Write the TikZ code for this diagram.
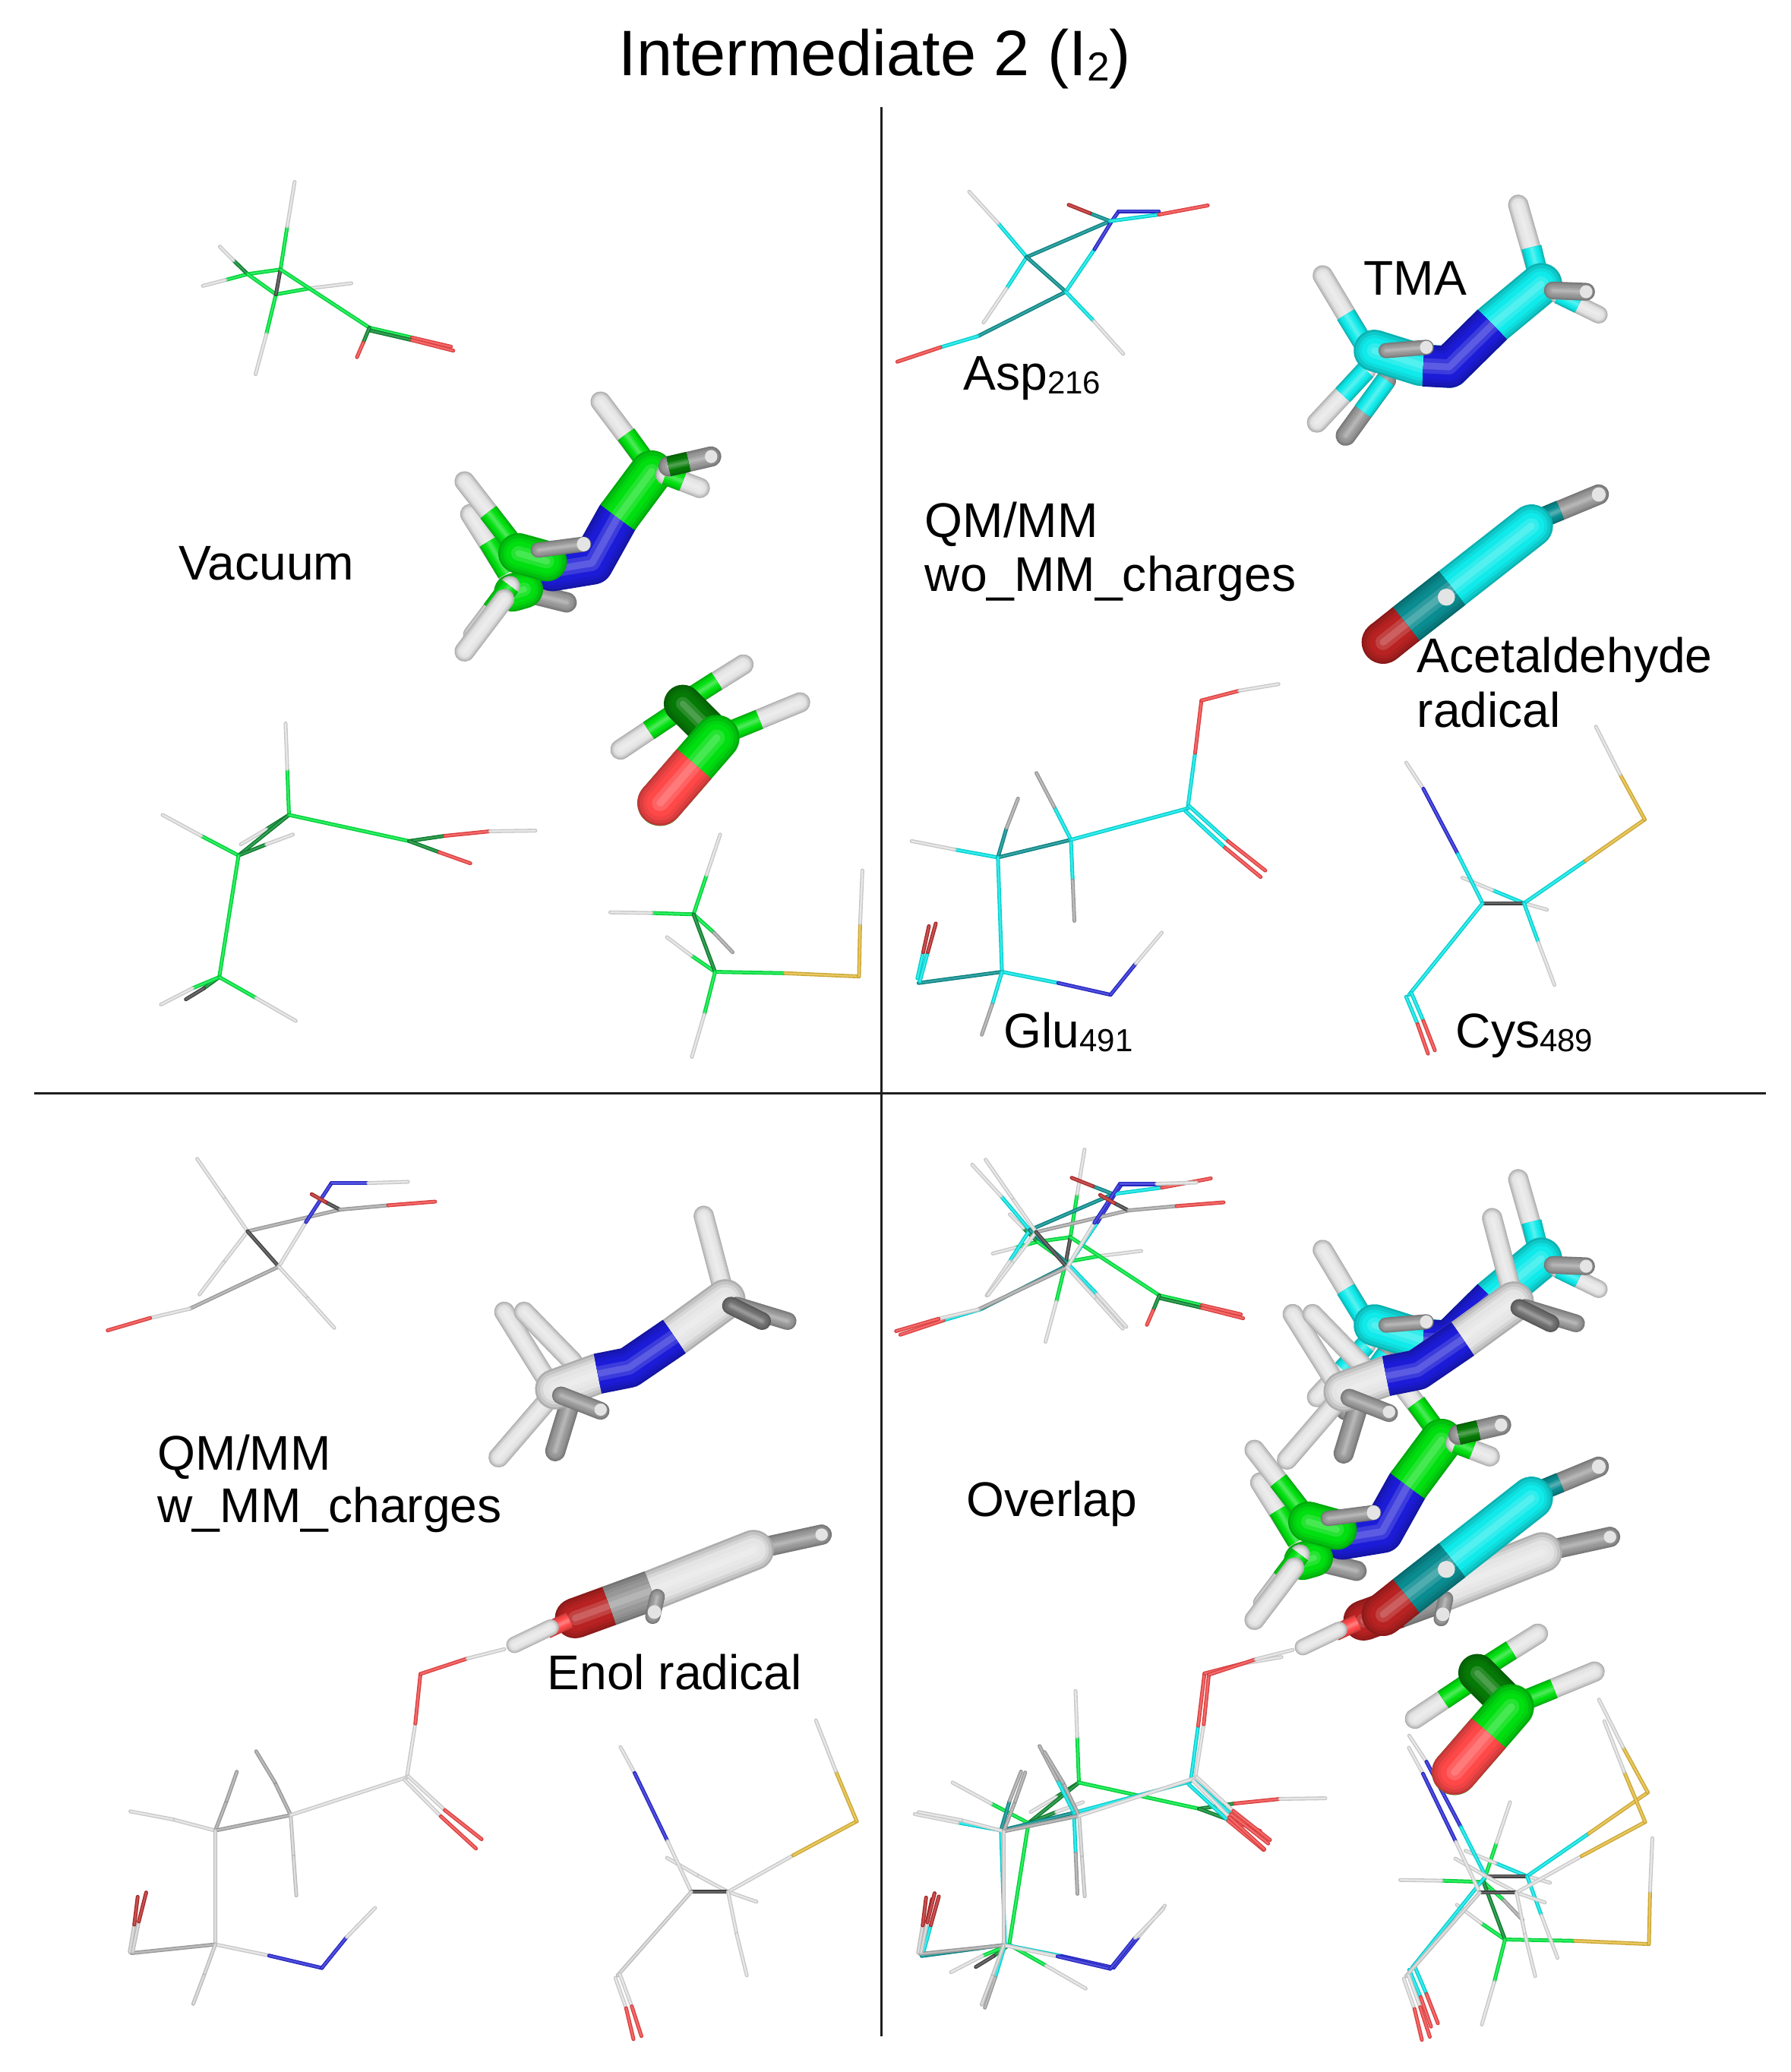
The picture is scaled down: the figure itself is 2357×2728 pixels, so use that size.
\documentclass[tikz,border=0pt]{standalone}
\usepackage{fontspec}
\setmainfont{Liberation Sans}
\definecolor{wg}{HTML}{00EA40}\definecolor{wdg}{HTML}{0A8A30}
\definecolor{wc}{HTML}{08E8E8}\definecolor{wdc}{HTML}{0A9090}
\definecolor{wh}{HTML}{E2E2E2}\definecolor{wl}{HTML}{D4D4D4}\definecolor{wm}{HTML}{ACACAC}\definecolor{wk}{HTML}{484848}
\definecolor{wn}{HTML}{2A2AD8}\definecolor{wo}{HTML}{F44848}\definecolor{wdo}{HTML}{BC2C2C}\definecolor{ws}{HTML}{E4BC3C}
\definecolor{tg}{HTML}{00E010}\definecolor{tdg}{HTML}{067A06}
\definecolor{tc}{HTML}{10EAEA}\definecolor{tdc}{HTML}{0A8C90}
\definecolor{tn}{HTML}{1C1CD8}\definecolor{to}{HTML}{FF4848}\definecolor{tdo}{HTML}{B82222}
\definecolor{th}{HTML}{E4E4E4}\definecolor{tdh}{HTML}{707070}\definecolor{tm}{HTML}{989898}
\newcommand\WW[3]{\draw[line cap=round,line width=1.5pt,#3!88!black] (#1)--(#2);\draw[line cap=round,line width=.7pt,#3!82!white] (#1)--(#2);}
\newcommand\WB[5]{\WW{#1}{#2}{#4}\WW{#2}{#3}{#5}}
\newcommand\TT[4][round]{\foreach \s/\cc in {1/#3!76!black,.9/#3!86!black,.75/#3!94!black,.6/#3,.36/#3!86!white,.16/#3!72!white}{%
  \draw[line cap=#1,line join=round,line width=\s*#2pt,color=\cc] #4;}}
\newcommand\TE[4]{\foreach \s/\cc in {1/#2!76!black,.9/#2!86!black,.75/#2!94!black,.6/#2,.36/#2!86!white,.16/#2!72!white}{%
  \draw[line cap=butt,line width=\s*#1pt,color=\cc] (#3)--(#4);
  \draw[line cap=round,line width=\s*#1pt,color=\cc] (#4)--++(.02,0);}}
\newcommand\mol[3]{\begin{scope}[shift={(#1)},#2]#3\end{scope}}
\tikzset{pa/.style={x=.2238pt,y=-.2583pt},pb/.style={x=.2271pt,y=-.2583pt},pc/.style={x=.2238pt,y=-.2445pt},
 lab/.style={anchor=base west,inner sep=0pt,font=\fontsize{19.25}{19.25}\selectfont,text=black},
 rule/.style={line width=.9pt,draw=black!88}}
\newcommand\sbs[1]{{\fontsize{12.6}{12.6}\selectfont\raisebox{-1.5pt}{#1}}}
% ---------- vacuum (green), panel-A coordinates
\newcommand\vacAsp{%
\WB{495,296}{507,230}{520,162}{wg}{wh}
\WB{437,303}{398,312}{358,321}{wg}{wh}
\WB{437,303}{412,282}{388,261}{wdg}{wh}
\WB{487,334}{545,325}{620,317}{wg}{wh}
\WB{487,334}{470,395}{451,456}{wg}{wh}
\WW{437,303}{495,296}{wg}\WW{437,303}{487,334}{wg}
\WW{495,296}{487,334}{wk}
\WW{495,296}{652,385}{wg}
\WB{652,385}{727,400}{796,414}{wg}{wo}\WB{652,389}{727,404}{800,420}{wdg}{wo}
\WB{652,385}{641,408}{630,430}{wdg}{wo}}
\newcommand\vacGlu{%
\WB{510,1130}{507,1060}{504,990}{wg}{wh}
\WB{510,1130}{470,1152}{425,1175}{wdg}{wh}
\WW{510,1130}{421,1192}{wdg}
\WB{421,1192}{355,1162}{287,1130}{wg}{wh}
\WB{421,1192}{470,1175}{517,1160}{wdg}{wh}
\WW{510,1130}{722,1170}{wg}
\WB{722,1170}{785,1162}{865,1155}{wdg}{wo}\WW{865,1155}{945,1154}{wh}
\WB{722,1170}{775,1187}{830,1204}{wdg}{wo}
\WW{421,1192}{387,1378}{wg}
\WB{387,1378}{360,1395}{328,1412}{wdg}{wk}
\WB{387,1378}{340,1395}{284,1420}{wg}{wh}
\WB{387,1378}{452,1410}{522,1445}{wg}{wh}}
\newcommand\vacCys{%
\WB{1224,1282}{1150,1280}{1077,1279}{wg}{wh}
\WB{1224,1282}{1247,1222}{1271,1160}{wg}{wh}
\WB{1224,1282}{1260,1310}{1293,1340}{wg}{wm}
\WB{1262,1370}{1220,1345}{1177,1317}{wg}{wh}
\WW{1224,1282}{1262,1370}{wdg}
\WB{1262,1370}{1385,1372}{1516,1377}{wg}{ws}
\WB{1516,1377}{1518,1296}{1522,1215}{ws}{wh}
\WB{1262,1370}{1243,1435}{1221,1500}{wg}{wh}}
\newcommand\vacTMA{%
\TT{8}{th}{(830,670)--(895,760)}\TT[butt]{8}{tg}{(862,712)--(895,760)}
\TT{8}{th}{(820,620)--(905,715)}\TT[butt]{8}{tg}{(862,667)--(905,715)}
\TT{8}{tm}{(930,790)--(1000,805)}
\TT{8}{th}{(1060,498)--(1140,590)}\TT[butt]{8}{tg}{(1105,548)--(1140,590)}
\TT{17}{tn}{(975,755)--(1045,745)--(1090,675)}
\TE{17}{tg}{1090,675}{1150,605}
\TT{8}{th}{(1235,630)--(1175,610)}\TT[butt]{8}{tg}{(1205,620)--(1175,610)}
\TT{8}{tm}{(1255,582)--(1180,597)}\TT[butt]{8}{tdg}{(1215,590)--(1180,597)}
\draw[fill=th,draw=none] (1255,582) circle[x radius=11,y radius=10];
\TT{15}{tg}{(905,790)--(925,785)}
\TT{8}{th}{(835,855)--(900,780)}\TT[butt]{8}{tg}{(868,817)--(900,780)}
\TT{8}{th}{(820,880)--(890,800)}
\TT{16}{tg}{(915,730)--(965,742)}
\TT{6}{tm}{(950,725)--(1030,716)}\draw[fill=th,draw=none] (1030,716) circle[x radius=12,y radius=11];}
\newcommand\vacAld{%
\TT{8}{th}{(1312,900)--(1220,950)}\TT[butt]{8}{tg}{(1265,925)--(1220,950)}
\TT{8}{th}{(1095,1030)--(1190,975)}\TT[butt]{8}{tg}{(1145,1001)--(1190,975)}
\TT{15}{tdg}{(1205,960)--(1265,1012)}
\TT{8}{th}{(1412,958)--(1280,1005)}\TT[butt]{8}{tg}{(1340,984)--(1280,1005)}
\TT{18}{tg}{(1165,1112)--(1265,1012)}
\TE{18}{to}{1225,1052}{1165,1112}}
% ---------- cyan, panel-B coordinates
\newcommand\cyAsp{%
\WB{240,277}{190,225}{140,177}{wc}{wh}
\WB{240,277}{205,325}{165,377}{wc}{wh}
\WW{240,277}{385,222}{wdc}
\WW{240,277}{308,330}{wdc}
\WB{308,330}{358,265}{388,222}{wc}{wn}
\WW{308,330}{155,398}{wdc}
\WB{308,330}{357,375}{408,425}{wc}{wh}
\WB{155,398}{90,415}{15,437}{wc}{wo}
\WB{385,222}{350,210}{313,197}{wdc}{wdo}
\WW{388,222}{400,207}{wn}\WW{400,207}{470,207}{wn}
\WB{385,222}{470,212}{555,198}{wc}{wo}}
\newcommand\cyGlu{%
\WB{190,1195}{115,1183}{40,1170}{wc}{wh}
\WB{190,1195}{205,1150}{225,1105}{wdc}{wm}
\WW{190,1195}{317,1168}{wdc}
\WB{317,1168}{288,1118}{257,1066}{wc}{wm}
\WB{317,1168}{320,1230}{323,1292}{wc}{wm}
\WW{317,1168}{520,1120}{wc}
\WB{520,1120}{533,1035}{544,955}{wc}{wo}
\WB{544,955}{610,940}{678,930}{wo}{wh}
\WB{522,1116}{590,1170}{655,1215}{wc}{wo}\WB{516,1124}{585,1180}{647,1225}{wc}{wo}
\WW{190,1195}{197,1370}{wc}
\WW{197,1370}{52,1387}{wdc}
\WB{54,1385}{68,1340}{82,1296}{wc}{wdo}\WB{50,1380}{60,1340}{70,1300}{wc}{wdo}
\WB{197,1370}{295,1387}{386,1405}{wc}{wn}
\WB{386,1405}{430,1357}{475,1310}{wn}{wh}
\WB{197,1370}{180,1420}{162,1466}{wc}{wm}}
\newcommand\cyCys{%
\WW{1105,1265}{1145,1275}{wh}
\WB{1105,1265}{1050,1245}{998,1226}{wc}{wh}
\WB{900,1050}{930,1090}{990,1190}{wh}{wn}\WW{990,1190}{1033,1265}{wc}
\WW{1033,1265}{1105,1265}{wk}
\WB{1105,1265}{1212,1200}{1315,1137}{wc}{ws}
\WB{1315,1137}{1272,1068}{1230,995}{ws}{wh}
\WB{1105,1265}{1130,1325}{1158,1390}{wc}{wh}
\WW{1033,1265}{905,1405}{wc}
\WB{909,1402}{930,1445}{950,1490}{wc}{wo}\WB{900,1408}{920,1450}{938,1495}{wc}{wo}}
\newcommand\cyTMA{%
\TT{8}{th}{(1095,197)--(1130,305)}\TT[butt]{8}{tc}{(1118,262)--(1130,305)}
\TT{8}{tm}{(795,550)--(865,465)}\TT[butt]{8}{tc}{(825,513)--(865,465)}
\TT{8}{th}{(745,530)--(830,450)}\TT[butt]{8}{tc}{(790,488)--(830,450)}
\TT{8}{th}{(755,305)--(830,415)}\TT[butt]{8}{tc}{(795,365)--(830,415)}
\TT{16.5}{tc}{(845,420)--(925,442)--(975,445)--(1050,380)--(1135,318)}
\TT[butt]{16.5}{tn}{(930,443)--(975,445)--(1050,380)}
\TT{7}{th}{(1235,365)--(1165,335)}\TT[butt]{7}{tc}{(1200,350)--(1165,335)}
\TT{7}{tm}{(1213,330)--(1155,328)}\draw[fill=th,draw=none] (1213,330) circle[x radius=11,y radius=10];
\TT{6}{tm}{(865,420)--(935,415)}\draw[fill=th,draw=none] (935,415) circle[x radius=11,y radius=10];}
\newcommand\cyAld{%
\TT{8}{tm}{(1235,640)--(1125,680)}\TT[butt]{8}{tdc}{(1125,680)--(1168,664)}
\draw[fill=th,draw=none] (1235,640) circle[x radius=12,y radius=11];
\TT{17}{tc}{(900,838)--(1118,688)}
\TT[butt]{17}{tdc}{(900,838)--(980,783)}
\TE{17}{tdo}{900,838}{860,866}
\draw[fill=th,draw=none] (970,797) circle[x radius=15,y radius=13];}
% ---------- white, panel-C coordinates
\newcommand\whAsp{%
\WB{437,210}{395,155}{348,93}{wh}{wh}
\WB{437,210}{395,260}{352,312}{wh}{wh}
\WW{437,210}{600,175}{wm}
\WW{437,210}{492,267}{wk}
\WW{492,267}{540,195}{wh}\WB{540,195}{585,132}{650,132}{wn}{wn}\WW{650,132}{720,130}{wh}
\WW{492,267}{335,335}{wm}
\WB{492,267}{543,318}{590,366}{wh}{wh}
\WB{335,335}{265,350}{190,370}{wh}{wo}
\WB{600,175}{575,163}{550,150}{wk}{wdo}
\WB{600,175}{685,168}{768,162}{wm}{wo}}
\newcommand\whGlu{%
\WB{380,1178}{305,1160}{230,1147}{wh}{wh}
\WB{380,1178}{400,1130}{418,1083}{wm}{wm}
\WW{380,1178}{513,1153}{wm}
\WB{513,1153}{485,1100}{452,1050}{wm}{wm}
\WB{513,1153}{518,1220}{523,1283}{wl}{wl}
\WW{513,1153}{718,1092}{wh}
\WB{718,1092}{733,1005}{742,925}{wh}{wo}
\WB{742,925}{825,900}{890,885}{wo}{wh}
\WB{720,1090}{785,1145}{850,1192}{wh}{wo}\WB{714,1096}{778,1155}{840,1207}{wh}{wo}
\WW{380,1178}{380,1362}{wl}
\WW{380,1362}{232,1376}{wm}
\WB{234,1374}{245,1325}{258,1278}{wl}{wdo}\WB{229,1374}{237,1330}{243,1285}{wl}{wdo}
\WB{380,1362}{475,1380}{568,1400}{wh}{wn}
\WB{568,1400}{612,1350}{662,1303}{wn}{wh}
\WB{380,1362}{360,1412}{341,1458}{wl}{wl}}
\newcommand\whCys{%
\WB{1285,1277}{1230,1250}{1177,1222}{wh}{wh}
\WW{1285,1277}{1335,1293}{wh}
\WB{1095,1043}{1120,1085}{1178,1195}{wh}{wn}\WW{1178,1195}{1220,1277}{wh}
\WW{1220,1277}{1285,1277}{wk}
\WB{1285,1277}{1400,1218}{1512,1163}{wh}{ws}
\WB{1512,1163}{1475,1082}{1440,1000}{ws}{wh}
\WB{1285,1277}{1300,1345}{1318,1412}{wh}{wh}
\WW{1220,1277}{1090,1412}{wl}
\WB{1094,1410}{1115,1462}{1132,1510}{wh}{wo}\WB{1086,1416}{1105,1465}{1118,1515}{wh}{wo}}
\newcommand\whTMA{%
\TT{8}{th}{(890,340)--(965,450)}\TT{8}{th}{(925,340)--(1010,420)}
\TT{8}{th}{(880,575)--(960,490)}
\TT{8}{tm}{(980,565)--(1005,490)}
\TT{8}{th}{(1242,185)--(1275,300)}
\TT{16}{th}{(980,465)--(1055,440)--(1110,430)--(1190,380)--(1280,320)}
\TT[butt]{16}{tn}{(1055,440)--(1110,430)--(1190,380)}
\TT{7}{tm}{(1300,330)--(1390,355)}
\TT{7}{tdh}{(1290,330)--(1345,355)}
\TT{7}{tm}{(990,475)--(1060,500)}\draw[fill=th,draw=none] (1060,498) circle[x radius=11,y radius=10];}
\newcommand\whEnol{%
\TT{8}{tm}{(1340,722)--(1450,700)}\draw[fill=th,draw=none] (1450,700) circle[x radius=11,y radius=10];
\TT{16}{th}{(1075,815)--(1150,790)--(1330,725)}
\TT[butt]{16}{tm}{(1075,815)--(1150,790)}
\TE{16}{tdo}{1075,815}{1015,835}
\TT{6}{tm}{(1152,832)--(1160,800)}\draw[fill=th,draw=none] (1155,825) circle[x radius=12,y radius=11];
\TT[butt]{6.5}{to}{(965,855)--(1005,838)}
\TT{6.5}{th}{(908,878)--(972,850)}}
% ================================================================
\begin{document}
\begin{tikzpicture}[x=.3pt,y=-.3pt]
\useasboundingbox (0,0) rectangle (2357,2728);
\fill[white] (0,0) rectangle (2357,2728);
\node[lab,font=\fontsize{25.4}{25.4}\selectfont] (title) at (814,100) {Intermediate 2 (I{\fontsize{16}{16}\selectfont\raisebox{-2pt}{2}})};
\draw[rule] (1160,141) -- (1160,2681);
\draw[rule] (45,1439) -- (2325,1439);
% panel A
\mol{0,100}{pa}{\vacAsp\vacGlu\vacCys\vacTMA\vacAld}
% panel B
\mol{1170,100}{pb}{\cyAsp\cyGlu\cyCys\cyTMA\cyAld}
% panel C
\mol{0,1450}{pc}{\whAsp\whGlu\whCys\whTMA\whEnol}
% panel D
\mol{1040,1374}{pa}{\vacAsp\vacGlu\vacCys}
\mol{1174,1381}{pb}{\cyAsp\cyGlu\cyCys}
\mol{1038,1451}{pc}{\whAsp\whGlu\whCys}
\mol{1040,1375}{pa}{\vacTMA}
\mol{1170,1383}{pb}{\cyTMA}
\mol{1038,1453}{pc}{\whTMA\whEnol}
\mol{1170,1380}{pb}{\cyAld}
\mol{1046,1376}{pa}{\vacAld}
% labels
\node[lab] (lvac) at (235,763) {Vacuum};
\node[lab] (lasp) at (1268,513) {Asp\sbs{216}};
\node[lab] (ltma) at (1795,388) {TMA};
\node[lab] (lqm1) at (1217,707) {QM/MM};
\node[lab] (lwo) at (1217,778) {wo\_MM\_charges};
\node[lab] (lace) at (1865,885) {Acetaldehyde};
\node[lab] (lrad) at (1865,957) {radical};
\node[lab] (lglu) at (1321,1379) {Glu\sbs{491}};
\node[lab] (lcys) at (1916,1379) {Cys\sbs{489}};
\node[lab] (lqm2) at (207,1935) {QM/MM};
\node[lab] (lw) at (207,2004) {w\_MM\_charges};
\node[lab] (lenol) at (720,2224) {Enol radical};
\node[lab] (lover) at (1272,1996) {Overlap};
\end{tikzpicture}
\end{document}
